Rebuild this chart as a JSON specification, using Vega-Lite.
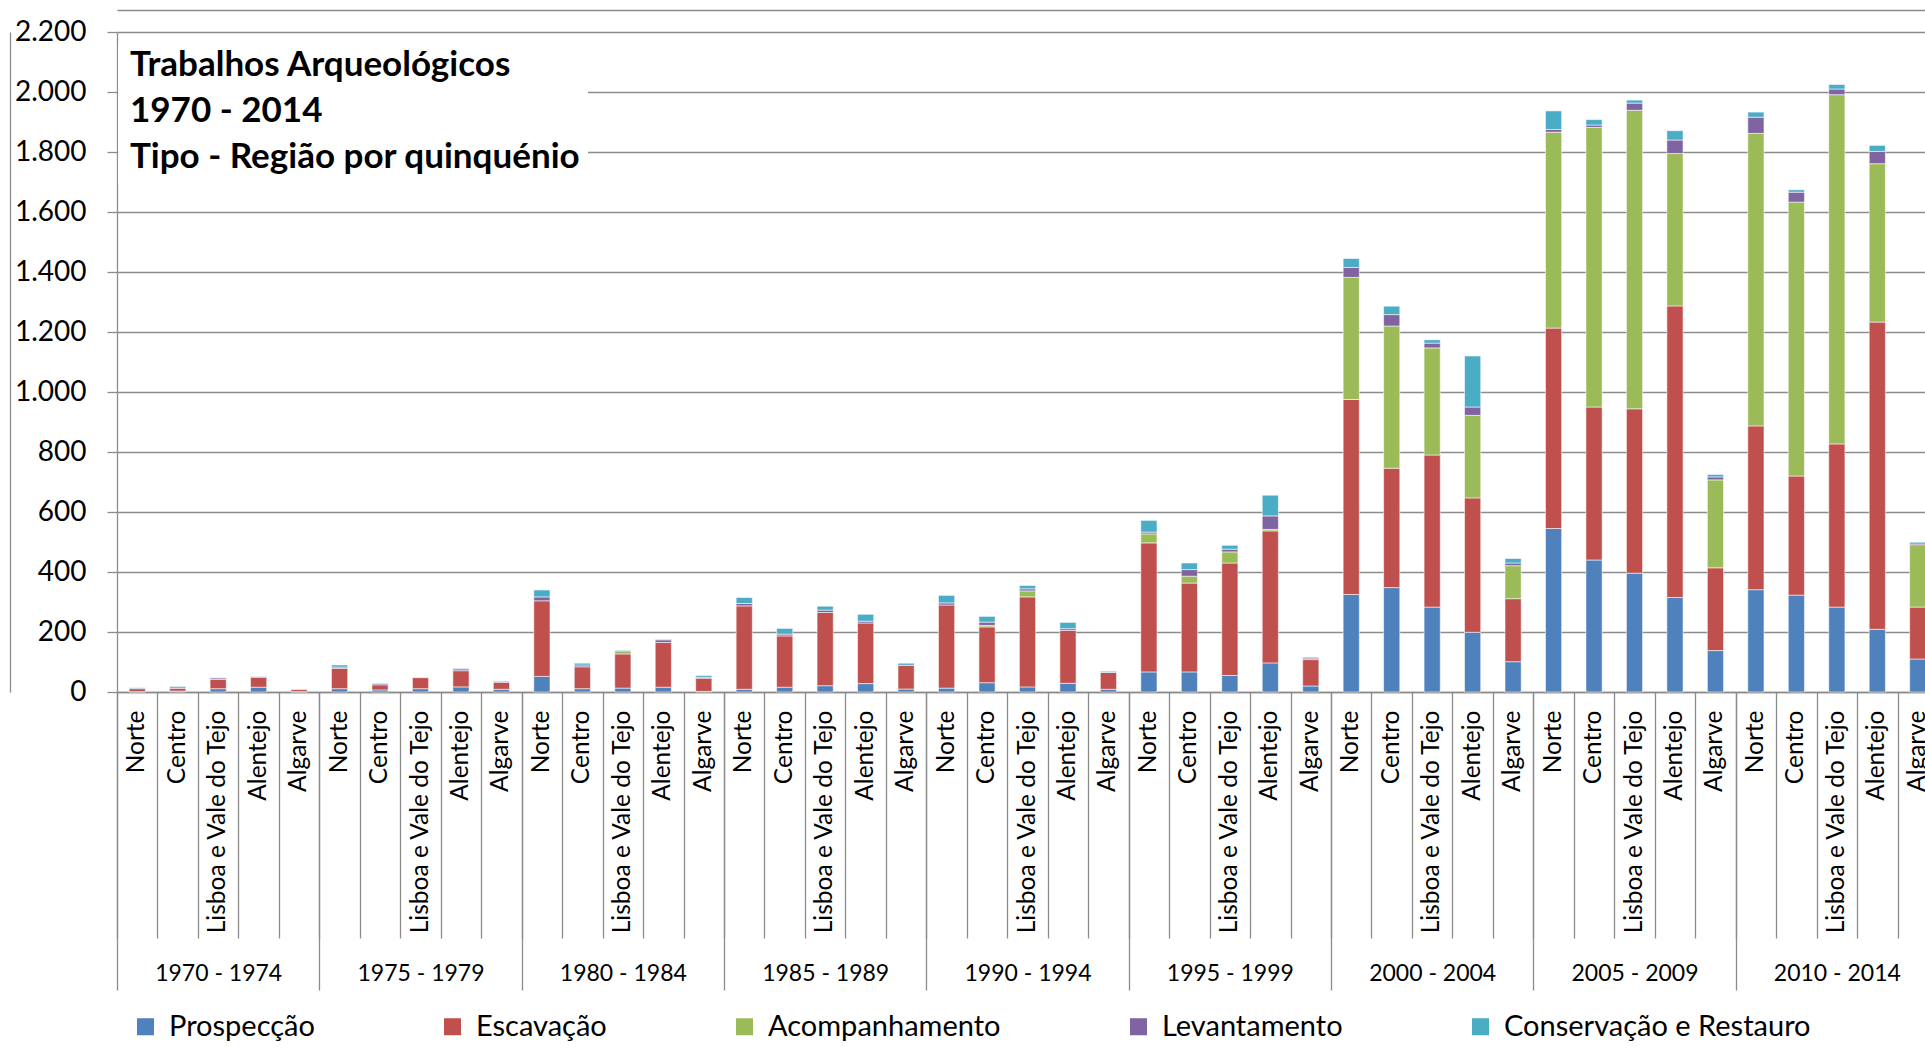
{
  "$schema": "https://vega.github.io/schema/vega-lite/v6.json",
  "width": 1808,
  "height": 660,
  "autosize": {"type": "none"},
  "padding": {"left": 117, "top": 32, "right": 0, "bottom": 361},
  "background": "#ffffff",
  "config": {
    "font": "Lato",
    "view": {"stroke": null},
    "axis": {"labelFont": "Lato", "labelColor": "#000000", "domainColor": "#8c8c8c", "tickColor": "#8c8c8c", "gridColor": "#8c8c8c", "domainWidth": 1.3, "tickWidth": 1.3, "gridWidth": 1.3}
  },
  "title": {
    "text": ["Trabalhos Arqueológicos", "1970 - 2014", "Tipo - Região por quinquénio"],
    "anchor": "start", "frame": "group", "orient": "top", "offset": 0, "dx": 13, "dy": 193,
    "baseline": "alphabetic", "font": "Lato", "fontSize": 35, "fontWeight": "bold", "color": "#000000", "lineHeight": 46
  },
  "data": {"values": [
    {"k": "1970 - 1974|1|Norte", "Prospecção": 1, "Escavação": 10, "Acompanhamento": 0, "Levantamento": 0, "Conservação e Restauro": 3},
    {"k": "1970 - 1974|2|Centro", "Prospecção": 3, "Escavação": 9, "Acompanhamento": 0, "Levantamento": 5, "Conservação e Restauro": 2},
    {"k": "1970 - 1974|3|Lisboa e Vale do Tejo", "Prospecção": 11, "Escavação": 31, "Acompanhamento": 0, "Levantamento": 5, "Conservação e Restauro": 1},
    {"k": "1970 - 1974|4|Alentejo", "Prospecção": 16, "Escavação": 33, "Acompanhamento": 0, "Levantamento": 3, "Conservação e Restauro": 1},
    {"k": "1970 - 1974|5|Algarve", "Prospecção": 1, "Escavação": 7, "Acompanhamento": 0, "Levantamento": 0, "Conservação e Restauro": 0},
    {"k": "1975 - 1979|1|Norte", "Prospecção": 11, "Escavação": 68, "Acompanhamento": 0, "Levantamento": 4, "Conservação e Restauro": 7},
    {"k": "1975 - 1979|2|Centro", "Prospecção": 7, "Escavação": 17, "Acompanhamento": 0, "Levantamento": 5, "Conservação e Restauro": 1},
    {"k": "1975 - 1979|3|Lisboa e Vale do Tejo", "Prospecção": 11, "Escavação": 37, "Acompanhamento": 0, "Levantamento": 1, "Conservação e Restauro": 1},
    {"k": "1975 - 1979|4|Alentejo", "Prospecção": 17, "Escavação": 54, "Acompanhamento": 0, "Levantamento": 6, "Conservação e Restauro": 2},
    {"k": "1975 - 1979|5|Algarve", "Prospecção": 9, "Escavação": 23, "Acompanhamento": 0, "Levantamento": 4, "Conservação e Restauro": 1},
    {"k": "1980 - 1984|1|Norte", "Prospecção": 52, "Escavação": 252, "Acompanhamento": 0, "Levantamento": 13, "Conservação e Restauro": 23},
    {"k": "1980 - 1984|2|Centro", "Prospecção": 11, "Escavação": 73, "Acompanhamento": 0, "Levantamento": 6, "Conservação e Restauro": 6},
    {"k": "1980 - 1984|3|Lisboa e Vale do Tejo", "Prospecção": 13, "Escavação": 114, "Acompanhamento": 10, "Levantamento": 0, "Conservação e Restauro": 2},
    {"k": "1980 - 1984|4|Alentejo", "Prospecção": 16, "Escavação": 149, "Acompanhamento": 0, "Levantamento": 9, "Conservação e Restauro": 2},
    {"k": "1980 - 1984|5|Algarve", "Prospecção": 2, "Escavação": 44, "Acompanhamento": 0, "Levantamento": 3, "Conservação e Restauro": 6},
    {"k": "1985 - 1989|1|Norte", "Prospecção": 9, "Escavação": 278, "Acompanhamento": 0, "Levantamento": 8, "Conservação e Restauro": 20},
    {"k": "1985 - 1989|2|Centro", "Prospecção": 16, "Escavação": 171, "Acompanhamento": 0, "Levantamento": 6, "Conservação e Restauro": 19},
    {"k": "1985 - 1989|3|Lisboa e Vale do Tejo", "Prospecção": 21, "Escavação": 244, "Acompanhamento": 0, "Levantamento": 8, "Conservação e Restauro": 13},
    {"k": "1985 - 1989|4|Alentejo", "Prospecção": 28, "Escavação": 202, "Acompanhamento": 0, "Levantamento": 6, "Conservação e Restauro": 23},
    {"k": "1985 - 1989|5|Algarve", "Prospecção": 10, "Escavação": 79, "Acompanhamento": 0, "Levantamento": 0, "Conservação e Restauro": 7},
    {"k": "1990 - 1994|1|Norte", "Prospecção": 13, "Escavação": 277, "Acompanhamento": 0, "Levantamento": 7, "Conservação e Restauro": 25},
    {"k": "1990 - 1994|2|Centro", "Prospecção": 31, "Escavação": 186, "Acompanhamento": 5, "Levantamento": 11, "Conservação e Restauro": 19},
    {"k": "1990 - 1994|3|Lisboa e Vale do Tejo", "Prospecção": 17, "Escavação": 300, "Acompanhamento": 20, "Levantamento": 7, "Conservação e Restauro": 11},
    {"k": "1990 - 1994|4|Alentejo", "Prospecção": 29, "Escavação": 176, "Acompanhamento": 0, "Levantamento": 6, "Conservação e Restauro": 21},
    {"k": "1990 - 1994|5|Algarve", "Prospecção": 9, "Escavação": 56, "Acompanhamento": 0, "Levantamento": 0, "Conservação e Restauro": 4},
    {"k": "1995 - 1999|1|Norte", "Prospecção": 67, "Escavação": 430, "Acompanhamento": 30, "Levantamento": 6, "Conservação e Restauro": 39},
    {"k": "1995 - 1999|2|Centro", "Prospecção": 67, "Escavação": 296, "Acompanhamento": 23, "Levantamento": 22, "Conservação e Restauro": 22},
    {"k": "1995 - 1999|3|Lisboa e Vale do Tejo", "Prospecção": 55, "Escavação": 375, "Acompanhamento": 37, "Levantamento": 9, "Conservação e Restauro": 13},
    {"k": "1995 - 1999|4|Alentejo", "Prospecção": 97, "Escavação": 440, "Acompanhamento": 5, "Levantamento": 45, "Conservação e Restauro": 69},
    {"k": "1995 - 1999|5|Algarve", "Prospecção": 20, "Escavação": 88, "Acompanhamento": 0, "Levantamento": 5, "Conservação e Restauro": 3},
    {"k": "2000 - 2004|1|Norte", "Prospecção": 325, "Escavação": 650, "Acompanhamento": 407, "Levantamento": 33, "Conservação e Restauro": 30},
    {"k": "2000 - 2004|2|Centro", "Prospecção": 348, "Escavação": 398, "Acompanhamento": 474, "Levantamento": 38, "Conservação e Restauro": 28},
    {"k": "2000 - 2004|3|Lisboa e Vale do Tejo", "Prospecção": 283, "Escavação": 507, "Acompanhamento": 357, "Levantamento": 16, "Conservação e Restauro": 11},
    {"k": "2000 - 2004|4|Alentejo", "Prospecção": 199, "Escavação": 448, "Acompanhamento": 275, "Levantamento": 28, "Conservação e Restauro": 170},
    {"k": "2000 - 2004|5|Algarve", "Prospecção": 101, "Escavação": 210, "Acompanhamento": 110, "Levantamento": 9, "Conservação e Restauro": 15},
    {"k": "2005 - 2009|1|Norte", "Prospecção": 545, "Escavação": 668, "Acompanhamento": 653, "Levantamento": 9, "Conservação e Restauro": 62},
    {"k": "2005 - 2009|2|Centro", "Prospecção": 440, "Escavação": 510, "Acompanhamento": 932, "Levantamento": 8, "Conservação e Restauro": 18},
    {"k": "2005 - 2009|3|Lisboa e Vale do Tejo", "Prospecção": 396, "Escavação": 548, "Acompanhamento": 995, "Levantamento": 24, "Conservação e Restauro": 10},
    {"k": "2005 - 2009|4|Alentejo", "Prospecção": 315, "Escavação": 972, "Acompanhamento": 508, "Levantamento": 45, "Conservação e Restauro": 31},
    {"k": "2005 - 2009|5|Algarve", "Prospecção": 138, "Escavação": 276, "Acompanhamento": 293, "Levantamento": 10, "Conservação e Restauro": 8},
    {"k": "2010 - 2014|1|Norte", "Prospecção": 341, "Escavação": 546, "Acompanhamento": 975, "Levantamento": 54, "Conservação e Restauro": 17},
    {"k": "2010 - 2014|2|Centro", "Prospecção": 323, "Escavação": 397, "Acompanhamento": 913, "Levantamento": 33, "Conservação e Restauro": 8},
    {"k": "2010 - 2014|3|Lisboa e Vale do Tejo", "Prospecção": 283, "Escavação": 544, "Acompanhamento": 1164, "Levantamento": 19, "Conservação e Restauro": 15},
    {"k": "2010 - 2014|4|Alentejo", "Prospecção": 209, "Escavação": 1024, "Acompanhamento": 528, "Levantamento": 41, "Conservação e Restauro": 20},
    {"k": "2010 - 2014|5|Algarve", "Prospecção": 110, "Escavação": 173, "Acompanhamento": 208, "Levantamento": 6, "Conservação e Restauro": 3}
  ]},
  "layer": [
    {
      "data": {"values": [{}]},
      "mark": {"type": "rect", "color": "#ffffff"},
      "encoding": {
        "x": {"datum": "1970 - 1974|1|Norte", "type": "nominal", "bandPosition": 0.03,
              "axis": {"orient": "top", "offset": 22, "title": null, "domain": true, "ticks": false, "labels": false, "grid": false}},
        "x2": {"datum": "1980 - 1984|2|Centro", "bandPosition": 0.64},
        "y": {"datum": 2160, "type": "quantitative",
              "axis": {"orient": "left", "offset": 107, "title": null, "domain": true, "ticks": false, "labels": false, "grid": false}},
        "y2": {"datum": 1690}
      }
    },
    {
      "transform": [
        {"fold": ["Prospecção", "Escavação", "Acompanhamento", "Levantamento", "Conservação e Restauro"], "as": ["tipo", "n"]},
        {"window": [{"op": "row_number", "as": "ordem"}], "groupby": ["k"]},
        {"filter": "datum.n > 0"}
      ],
      "mark": {"type": "bar", "width": {"band": 0.4}, "stroke": "#ffffff", "strokeWidth": 1, "strokeOpacity": 0.55},
      "encoding": {
        "x": {
          "field": "k", "type": "nominal",
          "scale": {"range": [0, 1821], "paddingInner": 0, "paddingOuter": 0},
          "axis": {
            "orient": "bottom", "title": null, "ticks": false, "domain": true, "grid": false,
            "labelExpr": "isString(datum.value) ? split(datum.value, '|')[2] : ''",
            "labelAngle": 270, "labelAlign": "right", "labelBaseline": "middle",
            "labelPadding": 18, "labelFontSize": 24.5, "labelLimit": 500
          }
        },
        "y": {
          "field": "n", "type": "quantitative", "stack": "zero",
          "scale": {"domain": [0, 2200], "nice": false},
          "axis": {
            "orient": "left", "title": null, "values": [0, 200, 400, 600, 800, 1000, 1200, 1400, 1600, 1800, 2000, 2200],
            "labelExpr": "replace(format(datum.value, ','), ',', '.')",
            "grid": true, "ticks": true, "tickSize": 10, "domain": true,
            "labelPadding": 21, "labelFontSize": 28
          }
        },
        "order": {"field": "ordem", "type": "quantitative", "sort": "ascending"},
        "color": {
          "field": "tipo", "type": "nominal",
          "sort": ["Prospecção", "Escavação", "Acompanhamento", "Levantamento", "Conservação e Restauro"],
          "scale": {
            "domain": ["Prospecção", "Escavação", "Acompanhamento", "Levantamento", "Conservação e Restauro"],
            "range": ["#4f81bd", "#c0504d", "#9bbb59", "#8064a2", "#4bacc6"]
          },
          "legend": {
            "orient": "none", "legendX": 14, "legendY": 980, "direction": "horizontal", "columns": 5,
            "title": null, "symbolType": "square", "symbolSize": 290, "symbolStrokeWidth": 0,
            "labelFont": "Lato", "labelFontSize": 29, "labelColor": "#000000", "labelOffset": 9,
            "columnPadding": 123, "padding": 0, "labelLimit": 500
          }
        }
      }
    },
    {
      "mark": {"type": "bar", "opacity": 0},
      "encoding": {
        "x": {
          "field": "k", "type": "nominal",
          "axis": {
            "orient": "bottom", "title": null, "labels": false, "domain": false, "grid": false,
            "ticks": true, "tickBand": "extent", "tickSize": 246
          }
        }
      }
    },
    {
      "mark": {"type": "bar", "opacity": 0},
      "encoding": {
        "x": {
          "field": "k", "type": "nominal",
          "axis": {
            "orient": "bottom", "title": null, "domain": false, "grid": false,
            "ticks": true, "tickBand": "extent", "tickSize": 298,
            "tickOpacity": {"condition": {"test": "!isString(datum.value) || indexof(datum.value, '|5|') >= 0", "value": 1}, "value": 0},
            "labelExpr": "isString(datum.value) && indexof(datum.value, '|3|') >= 0 ? split(datum.value, '|')[0] : ''",
            "labelAngle": 0, "labelAlign": "center", "labelBaseline": "middle",
            "labelPadding": -17, "labelFontSize": 23, "labelLimit": 500
          }
        }
      }
    }
  ],
  "resolve": {"axis": {"x": "independent", "y": "independent"}}
}
